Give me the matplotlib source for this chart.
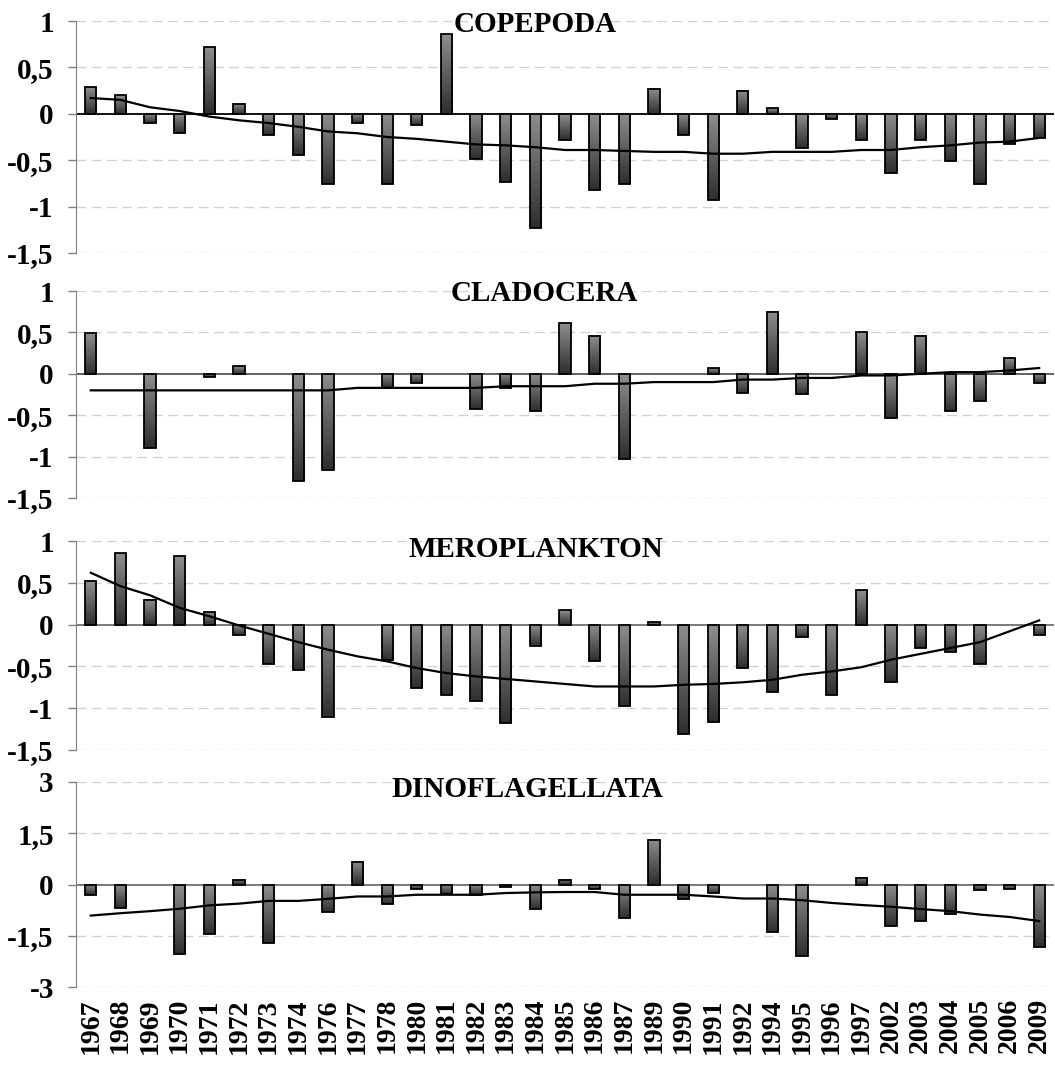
import numpy as np
import matplotlib
matplotlib.use("Agg")
import matplotlib.pyplot as plt
from matplotlib.colors import LinearSegmentedColormap
from matplotlib.ticker import FuncFormatter

# anomaly series per group, with the smoothed trend drawn over the bars

years = ["1967", "1968", "1969", "1970", "1971", "1972", "1973", "1974", "1976",
         "1977", "1978", "1980", "1981", "1982", "1983", "1984", "1985", "1986",
         "1987", "1989", "1990", "1991", "1992", "1994", "1995", "1996", "1997",
         "2002", "2003", "2004", "2005", "2006", "2009"]

copepoda = [0.29, 0.20, -0.10, -0.21, 0.72, 0.11, -0.23, -0.44, -0.76, -0.10, -0.76,
            -0.12, 0.86, -0.49, -0.73, -1.23, -0.28, -0.82, -0.76, 0.27, -0.23,
            -0.93, 0.25, 0.06, -0.37, -0.06, -0.28, -0.64, -0.28, -0.51, -0.76,
            -0.33, -0.26]
copepoda_trend = [0.17, 0.15, 0.07, 0.03, -0.03, -0.07, -0.10, -0.14, -0.19, -0.21,
                  -0.25, -0.27, -0.30, -0.33, -0.34, -0.36, -0.39, -0.39, -0.40,
                  -0.41, -0.41, -0.43, -0.43, -0.41, -0.41, -0.41, -0.39, -0.39,
                  -0.36, -0.34, -0.31, -0.30, -0.26]

cladocera = [0.49, 0.0, -0.90, 0.0, -0.04, 0.09, 0.0, -1.29, -1.16, 0.0, -0.17,
             -0.11, 0.0, -0.43, -0.17, -0.45, 0.61, 0.46, -1.03, 0.0, 0.0, 0.07,
             -0.23, 0.75, -0.25, 0.0, 0.50, -0.53, 0.46, -0.45, -0.33, 0.19, -0.11]
cladocera_trend = [-0.20, -0.20, -0.20, -0.20, -0.20, -0.20, -0.20, -0.20, -0.20,
                   -0.17, -0.17, -0.17, -0.17, -0.17, -0.15, -0.15, -0.15, -0.12,
                   -0.12, -0.10, -0.10, -0.10, -0.07, -0.07, -0.05, -0.05, -0.02,
                   -0.02, 0.00, 0.02, 0.02, 0.04, 0.07]

meroplankton = [0.52, 0.86, 0.30, 0.82, 0.15, -0.12, -0.47, -0.54, -1.11, 0.0, -0.42,
                -0.76, -0.84, -0.91, -1.18, -0.25, 0.17, -0.44, -0.97, 0.03, -1.31,
                -1.16, -0.52, -0.81, -0.15, -0.84, 0.41, -0.69, -0.28, -0.33, -0.47,
                0.0, -0.13]
meroplankton_trend = [0.62, 0.46, 0.35, 0.20, 0.10, -0.01, -0.11, -0.21, -0.30, -0.38,
                      -0.44, -0.52, -0.58, -0.62, -0.65, -0.68, -0.71, -0.74, -0.74,
                      -0.74, -0.72, -0.71, -0.69, -0.66, -0.60, -0.56, -0.51, -0.42,
                      -0.35, -0.28, -0.21, -0.08, 0.05]

dinoflagellata = [-0.32, -0.69, 0.0, -2.04, -1.46, 0.12, -1.70, 0.0, -0.80, 0.66,
                  -0.56, -0.13, -0.27, -0.31, -0.08, -0.73, 0.13, -0.12, -0.97, 1.31,
                  -0.42, -0.24, 0.0, -1.38, -2.09, 0.0, 0.19, -1.21, -1.08, -0.85,
                  -0.17, -0.12, -1.84]
dinoflagellata_trend = [-0.91, -0.84, -0.78, -0.71, -0.61, -0.56, -0.48, -0.48, -0.42,
                        -0.35, -0.35, -0.30, -0.30, -0.30, -0.25, -0.23, -0.22, -0.22,
                        -0.30, -0.30, -0.30, -0.35, -0.41, -0.41, -0.46, -0.54, -0.60,
                        -0.65, -0.72, -0.78, -0.88, -0.95, -1.07]

titles = ["COPEPODA", "CLADOCERA", "MEROPLANKTON", "DINOFLAGELLATA"]
series = [copepoda, cladocera, meroplankton, dinoflagellata]
trends = [copepoda_trend, cladocera_trend, meroplankton_trend, dinoflagellata_trend]
small_ticks = [1, 0.5, 0, -0.5, -1, -1.5]
dino_ticks = [3, 1.5, 0, -1.5, -3]
yticks = [small_ticks, small_ticks, small_ticks, dino_ticks]

plt.rcParams["font.family"] = ["Liberation Serif", "DejaVu Serif"]
plt.rcParams["font.weight"] = "bold"

W, H = 1055, 1067
fig = plt.figure(figsize=(W / 100, H / 100), dpi=100)

# pixel boxes (top, bottom) of each panel, measured on the original
left_px, right_px = 76, 1054
boxes = [(21, 253), (291, 498), (541, 750), (782, 987)]
title_pos = [(0.470, 0.986), (0.479, 0.986), (0.470, 0.957), (0.462, 0.961)]
zero_colors = ["black", "#555555", "#707070", "#707070"]

bar_cmap = LinearSegmentedColormap.from_list("bar", ["#8e8e8e", "#2e2e2e"])
grad = np.linspace(0, 1, 64).reshape(-1, 1)
fmt = FuncFormatter(lambda v, p: f"{v:g}".replace(".", ","))

x = np.arange(len(years))
for i, (top, bottom) in enumerate(boxes):
    ax = fig.add_axes([left_px / W, 1 - bottom / H, (right_px - left_px) / W,
                       (bottom - top) / H])
    bars = ax.bar(x, series[i], width=0.38, facecolor="none", edgecolor="black",
                  linewidth=1.3, zorder=3)
    for b in bars:
        y0, y1 = sorted([b.get_y(), b.get_y() + b.get_height()])
        if y1 - y0 <= 0:
            b.set_visible(False)
            continue
        ax.imshow(grad, extent=(b.get_x(), b.get_x() + b.get_width(), y0, y1),
                  cmap=bar_cmap, aspect="auto", origin="upper", zorder=2,
                  interpolation="bilinear")
    ax.plot(x, trends[i], color="black", linewidth=1.6, zorder=4)
    ax.axhline(0, color=zero_colors[i], linewidth=1.3, zorder=1)

    ticks = yticks[i]
    ax.set_xlim(-0.5, len(years) - 0.5)
    ax.set_ylim(min(ticks), max(ticks))
    ax.set_yticks(ticks)
    ax.yaxis.set_major_formatter(fmt)
    for t in ticks:
        if t != 0:
            ax.axhline(t, color="#d2d2d2", linewidth=1, linestyle=(0, (7, 4)), zorder=0)

    for s in ["top", "right", "bottom"]:
        ax.spines[s].set_visible(False)
    ax.spines["left"].set_color("#808080")
    ax.tick_params(axis="y", direction="out", length=6, width=1, color="#808080",
                   labelsize=21, pad=10)

    if i == len(boxes) - 1:
        ax.set_xticks(x)
        ax.set_xticklabels(years, rotation=90, fontsize=20, fontweight="bold")
        ax.tick_params(axis="x", length=0, pad=8)
    else:
        ax.tick_params(axis="x", bottom=False, labelbottom=False)

    ax.text(title_pos[i][0], title_pos[i][1], titles[i], transform=ax.transAxes,
            ha="center", va="center", fontsize=21, fontweight="bold", zorder=5)

fig.savefig("out.png", dpi=100)
